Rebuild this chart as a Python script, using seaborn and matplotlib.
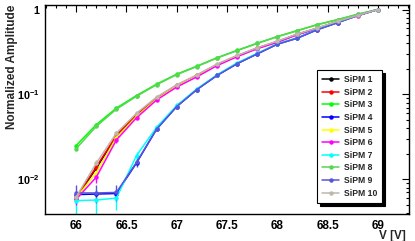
import numpy as np
import pandas as pd
import matplotlib
matplotlib.use("Agg")
import matplotlib.pyplot as plt
import matplotlib.ticker as mticker
import seaborn as sns

# --- data ---
voltage = [66.0, 66.2, 66.4, 66.6, 66.8, 67.0, 67.2, 67.4,
           67.6, 67.8, 68.0, 68.2, 68.4, 68.6, 68.8, 69.0]

sipm1 = [0.0060, 0.0135, 0.032, 0.057, 0.090, 0.127, 0.166, 0.223,
         0.283, 0.350, 0.418, 0.510, 0.602, 0.720, 0.850, 1.0]
sipm2 = [0.0061, 0.0140, 0.033, 0.058, 0.091, 0.128, 0.167, 0.224,
         0.284, 0.351, 0.419, 0.511, 0.603, 0.721, 0.851, 1.0]
sipm3 = [0.025, 0.044, 0.069, 0.097, 0.132, 0.173, 0.215, 0.270,
         0.330, 0.400, 0.480, 0.565, 0.665, 0.760, 0.880, 1.0]
sipm4 = [0.0066, 0.0067, 0.0068, 0.0156, 0.039, 0.072, 0.114, 0.167,
         0.230, 0.300, 0.390, 0.460, 0.580, 0.700, 0.850, 1.0]
sipm5 = [0.0060, 0.0120, 0.031, 0.055, 0.088, 0.125, 0.164, 0.221,
         0.281, 0.348, 0.415, 0.508, 0.600, 0.718, 0.848, 1.0]
sipm6 = [0.0058, 0.0106, 0.029, 0.053, 0.086, 0.122, 0.161, 0.218,
         0.278, 0.345, 0.410, 0.505, 0.595, 0.715, 0.845, 1.0]
sipm7 = [0.0056, 0.0057, 0.0060, 0.0190, 0.041, 0.074, 0.116, 0.170,
         0.235, 0.305, 0.395, 0.465, 0.585, 0.705, 0.852, 1.0]
sipm8 = [0.023, 0.042, 0.067, 0.095, 0.130, 0.171, 0.213, 0.268,
         0.328, 0.398, 0.478, 0.563, 0.663, 0.758, 0.878, 1.0]
sipm9 = [0.0069, 0.0069, 0.0070, 0.0158, 0.039, 0.072, 0.114, 0.167,
         0.230, 0.300, 0.390, 0.460, 0.580, 0.700, 0.850, 1.0]
sipm10 = [0.0062, 0.0155, 0.035, 0.060, 0.093, 0.130, 0.170, 0.228,
          0.288, 0.355, 0.425, 0.515, 0.610, 0.725, 0.855, 1.0]

# errors only visible on the lowest points
err7 = [0.0017, 0.0018, 0.0016, 0.0020]
err9 = [0.0016, 0.0016, 0.0015, 0.0020]
err_pink = [0.0008, 0.0015, 0.0020, 0.0]

names = ["SiPM 1", "SiPM 2", "SiPM 3", "SiPM 4", "SiPM 5",
         "SiPM 6", "SiPM 7", "SiPM 8", "SiPM 9", "SiPM 10"]
series = [sipm1, sipm2, sipm3, sipm4, sipm5, sipm6, sipm7, sipm8, sipm9, sipm10]
colors = ["#000000", "#ff0000", "#00ff00", "#0000ff", "#ffff00",
          "#ff00ff", "#00ffff", "#59d454", "#5954d8", "#c0b6ac"]

df = pd.DataFrame({
    "V": np.tile(voltage, len(names)),
    "amp": np.concatenate(series),
    "sipm": np.repeat(names, len(voltage)),
})

sns.set_theme(style="white")
plt.rcParams["font.family"] = ["Liberation Sans", "DejaVu Sans"]
plt.rcParams["font.weight"] = "bold"
plt.rcParams["mathtext.fontset"] = "custom"
plt.rcParams["mathtext.rm"] = "Liberation Sans:bold"
plt.rcParams["mathtext.bf"] = "Liberation Sans:bold"

fig = plt.figure(figsize=(4.15, 2.41), dpi=100)
ax = fig.add_axes([45 / 415, 27 / 241, 364 / 415, 209 / 241])

# error bars for the low-voltage points
for vals, err, col in [(sipm7, err7, colors[6]), (sipm9, err9, colors[8]),
                       (sipm6, err_pink, colors[5]), (sipm10, err_pink, colors[9])]:
    ax.errorbar(voltage[:4], vals[:4], yerr=err, fmt="none", ecolor=col,
                elinewidth=1.0, capsize=0)

sns.lineplot(data=df, x="V", y="amp", hue="sipm", hue_order=names,
             palette=colors, marker="o", markersize=3.2, markeredgewidth=0,
             linewidth=1.1, sort=False, ax=ax)

ax.set_yscale("log")
ax.set_xlim(65.69, 69.31)
ax.set_ylim(0.0039, 1.13)

ax.xaxis.set_major_locator(mticker.MultipleLocator(0.5))
ax.xaxis.set_minor_locator(mticker.MultipleLocator(0.1))
ax.xaxis.set_major_formatter(mticker.FuncFormatter(lambda v, p: f"{v:g}"))
ax.yaxis.set_major_locator(mticker.FixedLocator([0.01, 0.1, 1]))
ax.yaxis.set_major_formatter(mticker.FixedFormatter(
    [r"$10^{-2}$", r"$10^{-1}$", "1"]))
ax.yaxis.set_minor_locator(mticker.LogLocator(base=10, subs=np.arange(2, 10)))
ax.yaxis.set_minor_formatter(mticker.NullFormatter())

ax.tick_params(which="both", direction="in", top=True, right=True,
               width=0.8, colors="black")
ax.tick_params(axis="x", labelsize=8.5)
ax.tick_params(axis="y", labelsize=7.8)
ax.tick_params(which="major", length=5, pad=4)
ax.tick_params(which="minor", length=2.5)
for sp in ax.spines.values():
    sp.set_color("black")
    sp.set_linewidth(1.0)

ax.set_xlabel("V [V]", fontsize=8.5, fontweight="bold", ha="right")
ax.xaxis.set_label_coords(0.99, -0.075, transform=ax.transAxes)
ax.xaxis.label.set_verticalalignment("top")
ax.set_ylabel("Normalized Amplitude", fontsize=8.5, fontweight="bold",
              ha="right", va="center")
ax.yaxis.set_label_coords(-0.09, 1.0)

handles, labels = ax.get_legend_handles_labels()
leg = ax.legend(handles, labels, loc="upper left", bbox_to_anchor=(0.747, 0.689),
                fontsize=6.2, frameon=True, fancybox=False,
                shadow={"color": "black", "alpha": 1},
                labelspacing=0.42, handlelength=2.0, handletextpad=0.5,
                borderpad=0.6, borderaxespad=0)
leg.get_frame().set_edgecolor("black")
leg.get_frame().set_linewidth(0.8)

fig.savefig("out.png", dpi=100)
